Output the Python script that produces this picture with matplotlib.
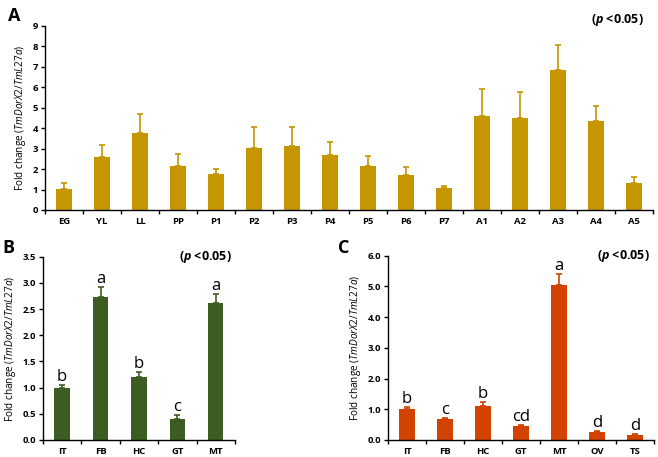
import numpy as np
import matplotlib
matplotlib.use("Agg")
import matplotlib.pyplot as plt

plt.rcParams['font.family'] = ['Open Sans', 'DejaVu Sans']
plt.rcParams['mathtext.fontset'] = 'custom'
plt.rcParams['mathtext.rm'] = 'Open Sans'
plt.rcParams['mathtext.it'] = 'Open Sans:italic'
plt.rcParams['mathtext.bf'] = 'Open Sans:bold'
plt.rcParams['mathtext.bfit'] = 'Open Sans:italic:bold'

# panel A: developmental stages
stages = ["EG", "YL", "LL", "PP", "P1", "P2", "P3", "P4", "P5", "P6", "P7",
          "A1", "A2", "A3", "A4", "A5"]
stage_mean = [1.03, 2.57, 3.78, 2.14, 1.78, 3.03, 3.14, 2.67, 2.13, 1.73, 1.05,
              4.58, 4.51, 6.82, 4.36, 1.31]
stage_err = [0.31, 0.59, 0.89, 0.60, 0.21, 1.04, 0.93, 0.67, 0.49, 0.36, 0.14,
             1.35, 1.24, 1.24, 0.74, 0.29]

# panel B: larval tissues
larva_tissues = ["IT", "FB", "HC", "GT", "MT"]
larva_mean = [0.99, 2.73, 1.20, 0.41, 2.61]
larva_err = [0.06, 0.19, 0.09, 0.06, 0.17]
larva_sig = ["b", "a", "b", "c", "a"]

# panel C: adult tissues
adult_tissues = ["IT", "FB", "HC", "GT", "MT", "OV", "TS"]
adult_mean = [1.00, 0.67, 1.11, 0.45, 5.05, 0.27, 0.17]
adult_err = [0.06, 0.03, 0.12, 0.05, 0.37, 0.03, 0.02]
adult_sig = ["b", "c", "b", "cd", "a", "d", "d"]

ylab = r"Fold change ($\mathit{TmDorX2/TmL27a}$)"


def panel(ax, labels, mean, err, color, ymax, step, fmt, sig=None, p_y=1.0):
    x = np.arange(len(labels))
    ax.bar(x, mean, width=0.4, color=color, zorder=2)
    ax.errorbar(x, mean, yerr=[np.zeros(len(mean)), err], fmt="none",
                ecolor=color, elinewidth=1.2, capsize=2.5, capthick=1.2, zorder=2)
    ax.set_xlim(-0.5, len(labels) - 0.5)
    ax.set_ylim(0, ymax)
    yt = np.arange(0, ymax + step / 2, step)
    ax.set_yticks(yt)
    ax.set_yticklabels([fmt.format(v) for v in yt], fontsize=6.8, fontweight="bold")
    ax.set_xticks(np.arange(len(labels) + 1) - 0.5)
    ax.set_xticklabels([])
    ax.set_xticks(x, minor=True)
    ax.set_xticklabels(labels, minor=True, fontsize=6.8, fontweight="bold")
    ax.tick_params(axis="x", which="minor", length=0, pad=5)
    ax.tick_params(axis="x", which="major", length=3, width=1)
    ax.tick_params(axis="y", length=3, width=1, pad=2)
    for s in ["top", "right"]:
        ax.spines[s].set_visible(False)
    for s in ["left", "bottom"]:
        ax.spines[s].set_linewidth(1)
    ax.set_ylabel(ylab, fontsize=7.2, labelpad=3)
    ax.text(0.985, p_y, r"($\mathbfit{p}$ <0.05)", transform=ax.transAxes,
            ha="right", va="center", fontsize=9, fontweight="bold")
    if sig is not None:
        for xi, m, e, s in zip(x, mean, err, sig):
            ax.annotate(s, (xi, m + e), xytext=(0, 0), textcoords="offset points",
                        ha="center", va="bottom", fontsize=12)


fig = plt.figure(figsize=(6.58, 4.57), dpi=100)

axA = fig.add_axes([0.0684, 0.5405, 0.924, 0.4033])
panel(axA, stages, stage_mean, stage_err, "#C49600", 9, 1, "{:.0f}", p_y=1.03)

axB = fig.add_axes([0.0653, 0.0372, 0.2918, 0.401])
panel(axB, larva_tissues, larva_mean, larva_err, "#3D5C22", 3.5, 0.5, "{:.1f}", larva_sig)

axC = fig.add_axes([0.5897, 0.0372, 0.4043, 0.4033])
panel(axC, adult_tissues, adult_mean, adult_err, "#D24200", 6, 1, "{:.1f}", adult_sig)

fig.text(0.012, 0.985, "A", fontsize=13, fontweight="bold", va="top")
fig.text(0.004, 0.478, "B", fontsize=13, fontweight="bold", va="top")
fig.text(0.513, 0.478, "C", fontsize=13, fontweight="bold", va="top")

fig.savefig("out.png", dpi=100)
